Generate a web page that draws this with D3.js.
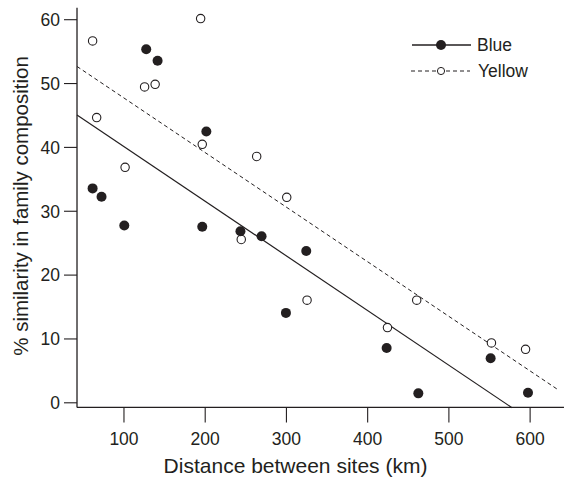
<!DOCTYPE html>
<html>
<head>
<meta charset="utf-8">
<script src="https://cdn.jsdelivr.net/npm/d3@7"></script>
<style>
  html, body { margin: 0; padding: 0; background: #fff; }
  svg { display: block; }
  text { font-family: "Liberation Sans", Arial, Helvetica, sans-serif; fill: #231f20; }
</style>
</head>
<body>
<svg id="chart" width="564" height="477"></svg>
<script>
// ---- data ----
const blueDistance = [62, 73, 101, 128, 142, 197, 202, 244, 270, 300, 325, 424, 463, 552, 598];
const blueSimilarity = [33.5, 32.2, 27.7, 55.3, 53.5, 27.5, 42.4, 26.8, 26.0, 14.0, 23.7, 8.5, 1.4, 6.9, 1.5];
const yellowDistance = [62, 67, 102, 126, 139, 195, 197, 245, 264, 301, 326, 425, 461, 553, 595];
const yellowSimilarity = [56.6, 44.6, 36.8, 49.4, 49.8, 60.1, 40.4, 25.5, 38.5, 32.1, 16.0, 11.7, 16.0, 9.3, 8.3];
// fitted regression lines (endpoints)
const blueFitX = [42.8, 578.3];
const blueFitY = [45.0, -0.85];
const yellowFitX = [42.8, 635.8];
const yellowFitY = [52.6, 1.9];
const xTicks = [100, 200, 300, 400, 500, 600];
const yTicks = [0, 10, 20, 30, 40, 50, 60];
const seriesNames = ["Blue", "Yellow"];
const xTitle = "Distance between sites (km)";
const yTitle = "% similarity in family composition";

// ---- scales ----
const x = d3.scaleLinear().domain([0, 650]).range([42.24, 42.24 + 0.8123 * 650]);
const y = d3.scaleLinear().domain([0, 60]).range([402.3, 402.3 - 6.385 * 60]);
const xMin = 42.8, xMax = 642.3, yMin = -0.8, yMax = 61.8;

const svg = d3.select("#chart");
const ink = "#231f20";

// axes
const xAxis = svg.append("g")
  .attr("transform", `translate(0,${y(yMin)})`)
  .call(d3.axisBottom(x).tickValues(xTicks).tickSize(15).tickPadding(10).tickSizeOuter(0));
xAxis.select(".domain").attr("d", `M${x(xMin)},0H${x(xMax)}`);

const yAxis = svg.append("g")
  .attr("transform", `translate(${x(xMin)},0)`)
  .call(d3.axisLeft(y).tickValues(yTicks).tickSize(13).tickPadding(4).tickSizeOuter(0));
yAxis.select(".domain").attr("d", `M0,${y(yMin)}V${y(yMax)}`);

[xAxis, yAxis].forEach(g => {
  g.selectAll(".domain").attr("stroke", ink).attr("stroke-width", 1.3);
  g.selectAll(".tick line").attr("stroke", ink).attr("stroke-width", 1.1);
  g.selectAll(".tick text").attr("fill", ink)
    .style("font-size", "17.5px")
    .style("font-family", '"Liberation Sans", Arial, Helvetica, sans-serif');
});
yAxis.selectAll(".tick text").attr("dy", "0.36em");

// titles
svg.append("text")
  .attr("x", 295.5).attr("y", 473)
  .attr("text-anchor", "middle")
  .style("font-size", "21px")
  .text(xTitle);
svg.append("text")
  .attr("transform", `translate(28,${206}) rotate(-90)`)
  .attr("text-anchor", "middle")
  .style("font-size", "20.5px")
  .text(yTitle);

// fit lines
const line = d3.line().x(d => x(d[0])).y(d => y(d[1]));
svg.append("path")
  .datum(d3.zip(blueFitX, blueFitY))
  .attr("d", line).attr("fill", "none").attr("stroke", ink).attr("stroke-width", 1.2);
svg.append("path")
  .datum(d3.zip(yellowFitX, yellowFitY))
  .attr("d", line).attr("fill", "none").attr("stroke", ink).attr("stroke-width", 1)
  .attr("stroke-dasharray", "4,3");

// points
svg.append("g").selectAll("circle")
  .data(d3.zip(yellowDistance, yellowSimilarity))
  .join("circle")
  .attr("cx", d => x(d[0])).attr("cy", d => y(d[1])).attr("r", 4.2)
  .attr("fill", "#fff").attr("stroke", ink).attr("stroke-width", 1.1);
svg.append("g").selectAll("circle")
  .data(d3.zip(blueDistance, blueSimilarity))
  .join("circle")
  .attr("cx", d => x(d[0])).attr("cy", d => y(d[1])).attr("r", 5)
  .attr("fill", ink);

// legend
const leg = svg.append("g");
const legY = [45, 71];
// Blue
leg.append("line").attr("x1", 412).attr("x2", 471).attr("y1", legY[0]).attr("y2", legY[0])
  .attr("stroke", ink).attr("stroke-width", 1.6);
leg.append("circle").attr("cx", 441).attr("cy", legY[0]).attr("r", 5).attr("fill", ink);
leg.append("text").attr("x", 477).attr("y", legY[0]).attr("dy", "0.36em")
  .style("font-size", "17.5px").text(seriesNames[0]);
// Yellow
leg.append("line").attr("x1", 411).attr("x2", 470).attr("y1", legY[1]).attr("y2", legY[1])
  .attr("stroke", ink).attr("stroke-width", 1).attr("stroke-dasharray", "4,3");
leg.append("circle").attr("cx", 441).attr("cy", legY[1]).attr("r", 3.6)
  .attr("fill", "#fff").attr("stroke", ink).attr("stroke-width", 1);
leg.append("text").attr("x", 478).attr("y", legY[1]).attr("dy", "0.36em")
  .style("font-size", "17.5px").text(seriesNames[1]);
</script>
</body>
</html>
